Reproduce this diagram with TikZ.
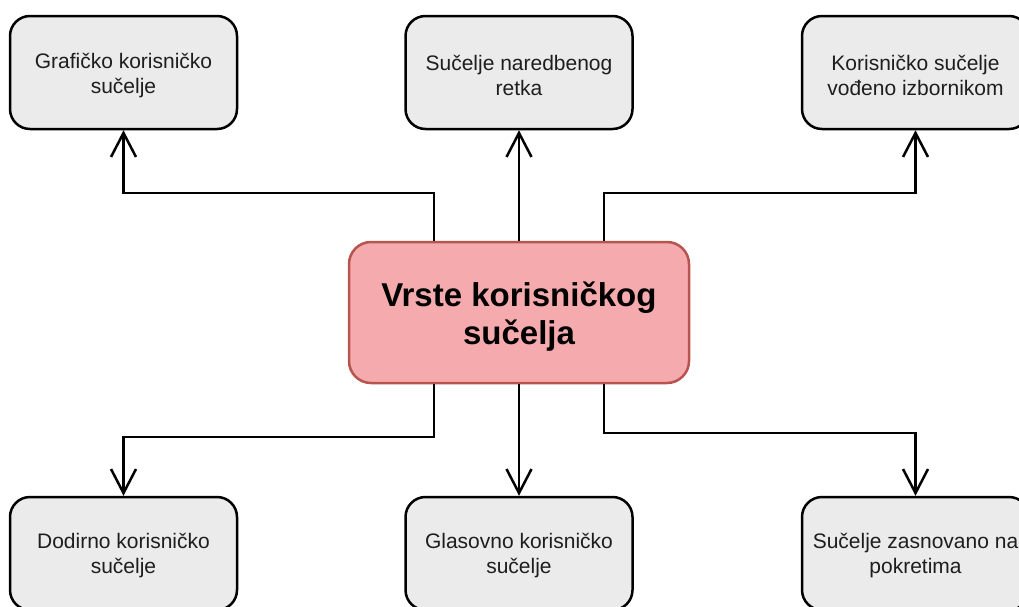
\documentclass[tikz,border=0pt]{standalone}
\usepackage{fontspec}
\setmainfont{Liberation Sans}
\usetikzlibrary{arrows.meta}
\definecolor{boxgray}{HTML}{EBEBEB}
\definecolor{hubfill}{HTML}{F5ABAD}
\definecolor{hubline}{HTML}{B85450}
\definecolor{boxtext}{HTML}{1E1E1E}
\tikzset{
  box/.style={draw=black, line width=2.5pt, fill=boxgray, rounded corners=20pt,
    minimum width=227pt, minimum height=113pt, align=center, text=boxtext,
    font=\fontsize{21}{25}\selectfont},
  boxtxt/.style={align=center, text=boxtext, font=\fontsize{21}{25}\selectfont},
  hub/.style={draw=hubline, line width=2.5pt, fill=hubfill, rounded corners=22pt,
    minimum width=340pt, minimum height=141pt},
  hubtxt/.style={align=center, font=\fontsize{33}{38}\selectfont\bfseries},
  conn/.style={line width=2.5pt, -{Straight Barb[length=24pt,width=25pt]}}
}
\begin{document}
\begin{tikzpicture}[x=1pt,y=-1pt]
			\useasboundingbox (0,0) rectangle (1019,606);
			
			% centre
			\node[hub] (vrste) at (519,312.5) {};
			\node[hubtxt] (vrstetxt) at (519,317) {Vrste korisničkog\\sučelja};
			
			% top row
			\node[box] (graf) at (123.5,72.5) {};
			\node[box] (nared) at (519,72.5) {};
			\node[box] (izborn) at (915.5,72.5) {};
			\node[boxtxt] at ([yshift=-3pt]graf.center) {Grafičko korisničko\\sučelje};
			\node[boxtxt] at ([yshift=-3pt]nared.center) {Sučelje naredbenog\\retka};
			\node[boxtxt] at ([yshift=-3pt]izborn.center) {Korisničko sučelje\\vođeno izbornikom};
			
			% bottom row
			\node[box] (dodir) at (123.5,553.5) {};
			\node[box] (glas) at (519,553.5) {};
			\node[box] (pokret) at (915.5,553.5) {};
			\node[boxtxt] at ([yshift=-2pt]dodir.center) {Dodirno korisničko\\sučelje};
			\node[boxtxt] at ([yshift=-2pt]glas.center) {Glasovno korisničko\\sučelje};
			\node[boxtxt] at ([yshift=-2pt]pokret.center) {Sučelje zasnovano na\\pokretima};
			
			% bends
			\coordinate (tl) at (434,193);
			\coordinate (tr) at (604,193);
			\coordinate (bl) at (434,437);
			\coordinate (br) at (604,433);
			
			\draw[conn] (vrste.north -| tl) -- (tl) -| (graf.south);
			\draw[conn] (vrste.north) -- (nared.south);
			\draw[conn] (vrste.north -| tr) -- (tr) -| (izborn.south);
			
			\draw[conn] (vrste.south -| bl) -- (bl) -| (dodir.north);
			\draw[conn] (vrste.south) -- (glas.north);
			\draw[conn] (vrste.south -| br) -- (br) -| (pokret.north);
\end{tikzpicture}
\end{document}
